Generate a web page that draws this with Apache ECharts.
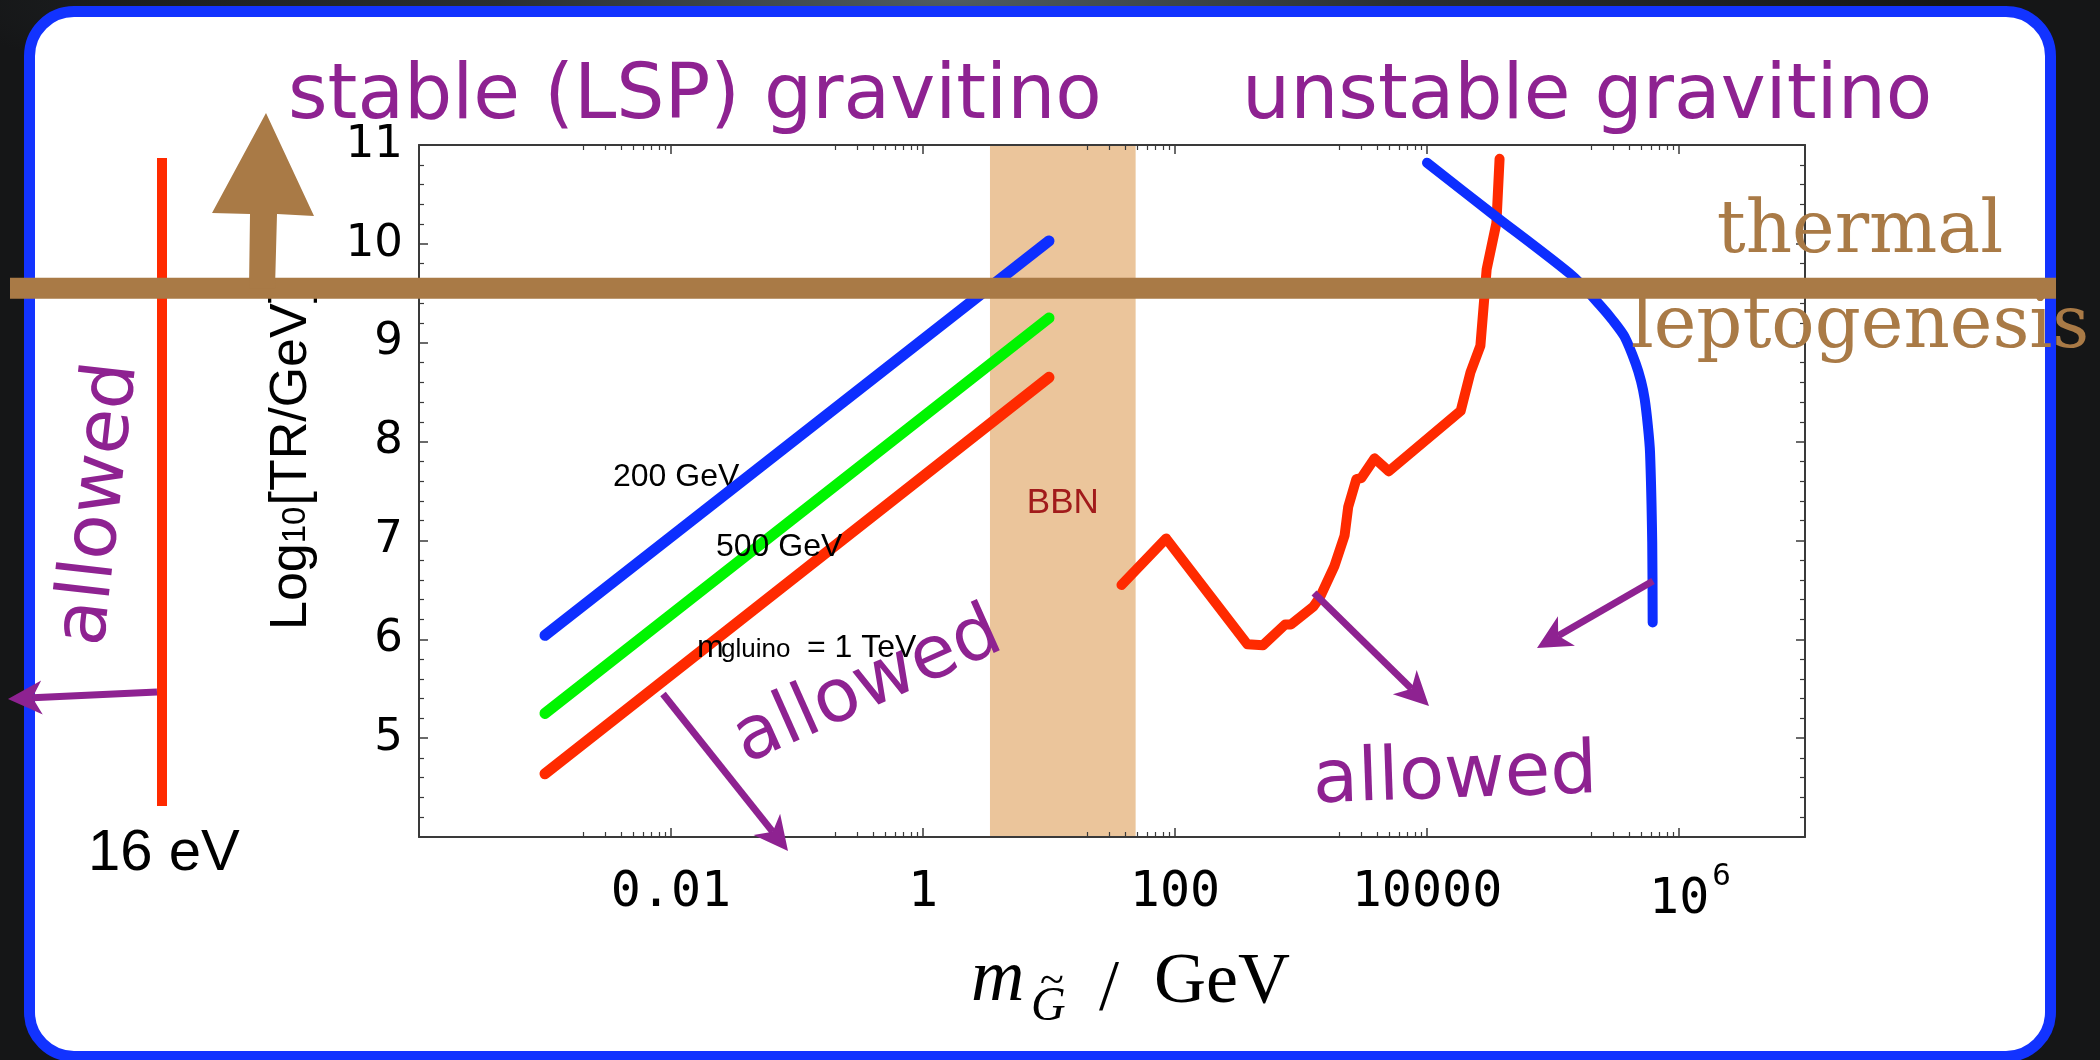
<!DOCTYPE html>
<html>
<head>
<meta charset="utf-8">
<script src="https://cdn.jsdelivr.net/npm/echarts@6/dist/echarts.min.js"></script>
<style>
  html, body { margin: 0; padding: 0; width: 2100px; height: 1060px; overflow: hidden; }
  body {
    background: radial-gradient(ellipse 1000px 140px at 950px 0px, #4f5c62 0%, #2a2f32 45%, #151617 100%), #151617;
  }
  #panel {
    position: absolute; left: 24px; top: 6px; width: 2032px; height: 1056px;
    box-sizing: border-box; border: 11px solid #1233ff; border-radius: 50px; background: #ffffff;
  }
  #chart { position: absolute; left: 0; top: 0; width: 2100px; height: 1060px; }
</style>
</head>
<body>
<div id="panel"></div>
<div id="chart"></div>
<script>
// ---- axis ticks / labels ----
const X_MAJOR_TICKS = [0.01, 1, 100, 1e4, 1e6];
const X_TICK_LABELS = ['0.01', '1', '100', '10000', '10^6'];
const X_MINOR_DECADES = [1e-3, 1e-1, 1e1, 1e3, 1e5];
const X_MINOR_STEPS = [2, 3, 4, 5, 6, 7, 8, 9];
const Y_TICK_LABELS = ['', '5', '6', '7', '8', '9', '10', '11'];

// ---- stable gravitino: upper bound on TR for three gluino masses ----
const GLUINO_LABELS = ['200 GeV', '500 GeV', '1 TeV'];
const STABLE_MASS = [1e-3, 10];
const TR_GLUINO_200 = [6.04, 10.03];
const TR_GLUINO_500 = [5.25, 9.25];
const TR_GLUINO_1000 = [4.64, 8.65];

// ---- BBN-excluded mass window ----
const BBN_BAND = [3.4, 48.7];

// ---- unstable gravitino: BBN bound (red) ----
const UNSTABLE_RED_MASS = [37.6, 85, 375, 499, 750, 834, 1253, 1406, 1841, 2218, 2370, 2750, 3006, 3838, 4977, 18500, 22130, 26530, 29730, 35550, 37670];
const UNSTABLE_RED_TR = [6.55, 7.02, 5.95, 5.94, 6.15, 6.15, 6.33, 6.42, 6.74, 7.05, 7.34, 7.62, 7.63, 7.83, 7.70, 8.31, 8.70, 8.97, 9.74, 10.21, 10.86];

// ---- unstable gravitino: second bound (blue) ----
const UNSTABLE_BLUE_MASS = [1.0e4, 3.33e4, 1.445e5, 2.36e5, 3.01e5, 3.7e5, 4.53e5, 5.0e5, 5.34e5, 5.66e5, 5.89e5, 6.13e5, 6.18e5];
const UNSTABLE_BLUE_TR = [10.82, 10.30, 9.67, 9.38, 9.22, 9.06, 8.79, 8.61, 8.43, 8.16, 7.89, 6.98, 6.17];

// ---- thermal leptogenesis requirement ----
const LEPTOGENESIS_TR = 9.55;

// ---- colours ----
const C_BLUE = '#0d2eff', C_GREEN = '#00f500', C_RED = '#ff2a00';
const C_PURPLE = '#8e2291', C_BROWN = '#a97a46', C_BAND = '#ebc59b';
const C_AXIS = '#3a3a3a';

const X_MINOR_TICKS = [];
X_MINOR_DECADES.forEach(d => X_MINOR_STEPS.forEach(k => X_MINOR_TICKS.push(d * k)));

const zip = (xs, ys) => xs.map((x, i) => [x, ys[i]]);

function xLabel(v) {
  const e = Math.log10(v);
  const i = X_MAJOR_TICKS.findIndex(t => Math.abs(Math.log10(t) - e) < 1e-6);
  if (i < 0) return '';
  const s = X_TICK_LABELS[i];
  const m = s.match(/^10\^(\d+)$/);
  return m ? '{c|10}{s|' + m[1] + '}' : '{b|' + s + '}';
}

const MONO = '"DejaVu Sans Mono"';
const baseX = {
  type: 'log', logBase: 10, min: 1e-4, max: 1e7, gridIndex: 0, z: 4,
  splitLine: { show: false }, minorSplitLine: { show: false }
};

const chart = echarts.init(document.getElementById('chart'), null, { width: 2100, height: 1060 });

const option = {
  backgroundColor: 'transparent',
  animation: false,
  grid: { left: 419, top: 145, width: 1386, height: 692, containLabel: false },
  xAxis: [
    Object.assign({}, baseX, {
      position: 'bottom',
      axisLine: { show: true, onZero: false, lineStyle: { color: C_AXIS, width: 2 } },
      axisTick: { show: true, inside: true, length: 9, customValues: X_MAJOR_TICKS, lineStyle: { color: C_AXIS, width: 1.5 } },
      axisLabel: {
        show: true, customValues: X_MAJOR_TICKS, margin: 24, formatter: xLabel,
        fontFamily: MONO, fontSize: 50, lineHeight: 64, color: '#000',
        rich: {
          b: { fontFamily: MONO, fontSize: 50, lineHeight: 64, color: '#000' },
          c: { fontFamily: MONO, fontSize: 50, lineHeight: 64, color: '#000', verticalAlign: 'bottom', padding: [0, 0, 0, 22] },
          s: { fontFamily: MONO, fontSize: 31, lineHeight: 31, color: '#000', verticalAlign: 'top', padding: [0, 0, 0, 3] }
        }
      }
    }),
    Object.assign({}, baseX, {
      position: 'bottom',
      axisLine: { show: false, onZero: false },
      axisTick: { show: true, inside: true, length: 5, customValues: X_MINOR_TICKS, lineStyle: { color: C_AXIS, width: 1.2 } },
      axisLabel: { show: false }
    }),
    Object.assign({}, baseX, {
      position: 'top',
      axisLine: { show: true, onZero: false, lineStyle: { color: C_AXIS, width: 2 } },
      axisTick: { show: true, inside: true, length: 9, customValues: X_MAJOR_TICKS, lineStyle: { color: C_AXIS, width: 1.5 } },
      axisLabel: { show: false }
    }),
    Object.assign({}, baseX, {
      position: 'top',
      axisLine: { show: false, onZero: false },
      axisTick: { show: true, inside: true, length: 5, customValues: X_MINOR_TICKS, lineStyle: { color: C_AXIS, width: 1.2 } },
      axisLabel: { show: false }
    })
  ],
  yAxis: [
    {
      type: 'value', min: 4, max: 11, interval: 1, position: 'left', z: 4,
      axisLine: { show: true, onZero: false, lineStyle: { color: C_AXIS, width: 2 } },
      axisTick: { show: true, inside: true, length: 9, lineStyle: { color: C_AXIS, width: 1.5 } },
      minorTick: { show: true, splitNumber: 5, length: 5, lineStyle: { color: C_AXIS, width: 1.2 } },
      axisLabel: {
        show: true, margin: 16, fontFamily: '"DejaVu Sans"', fontSize: 45, color: '#000',
        formatter: v => Y_TICK_LABELS[Math.round(v) - 4] || ''
      },
      splitLine: { show: false }, minorSplitLine: { show: false }
    },
    {
      type: 'value', min: 4, max: 11, interval: 1, position: 'right', z: 4,
      axisLine: { show: true, onZero: false, lineStyle: { color: C_AXIS, width: 2 } },
      axisTick: { show: true, inside: true, length: 9, lineStyle: { color: C_AXIS, width: 1.5 } },
      minorTick: { show: true, splitNumber: 5, length: 5, lineStyle: { color: C_AXIS, width: 1.2 } },
      axisLabel: { show: false },
      splitLine: { show: false }, minorSplitLine: { show: false }
    }
  ],
  series: [
    {
      type: 'line', name: 'BBN', data: [], z: 1, silent: true,
      markArea: {
        silent: true,
        itemStyle: { color: C_BAND, opacity: 1 },
        label: {
          show: true, position: 'inside', formatter: 'BBN', offset: [0, 12],
          color: '#a11b1b', fontFamily: '"Liberation Sans"', fontSize: 35
        },
        data: [[{ xAxis: BBN_BAND[0] }, { xAxis: BBN_BAND[1] }]]
      }
    },
    {
      type: 'line', name: GLUINO_LABELS[0], data: zip(STABLE_MASS, TR_GLUINO_200), z: 5,
      symbol: 'none', lineStyle: { color: C_BLUE, width: 11, cap: 'round' }
    },
    {
      type: 'line', name: GLUINO_LABELS[1], data: zip(STABLE_MASS, TR_GLUINO_500), z: 5,
      symbol: 'none', lineStyle: { color: C_GREEN, width: 11, cap: 'round' }
    },
    {
      type: 'line', name: GLUINO_LABELS[2], data: zip(STABLE_MASS, TR_GLUINO_1000), z: 5,
      symbol: 'none', lineStyle: { color: C_RED, width: 11, cap: 'round' }
    },
    {
      type: 'line', name: 'unstable, BBN', data: zip(UNSTABLE_RED_MASS, UNSTABLE_RED_TR), z: 5,
      symbol: 'none', lineStyle: { color: C_RED, width: 10, cap: 'round', join: 'round' }
    },
    {
      type: 'line', name: 'unstable, upper', data: zip(UNSTABLE_BLUE_MASS, UNSTABLE_BLUE_TR), z: 5,
      symbol: 'none', smooth: 0.25, lineStyle: { color: C_BLUE, width: 10, cap: 'round', join: 'round' }
    }
  ]
};

chart.setOption(option);

// ---- annotations drawn on top of the plot ----
const measureCtx = document.createElement('canvas').getContext('2d');
function textWidth(s, font) { measureCtx.font = font; return measureCtx.measureText(s).width; }

// text placed by its baseline (y is the baseline)
function label(text, x, baseline, size, family, fill, extra) {
  const font = (extra && extra.fontStyle ? extra.fontStyle + ' ' : '') + size + 'px ' + family;
  return Object.assign({
    type: 'text', x: x, y: baseline - 0.3 * size, z: 100,
    style: { text: text, font: font, fill: fill, align: (extra && extra.align) || 'left', verticalAlign: 'middle' }
  }, extra && extra.el ? extra.el : {});
}

function arrow(x1, y1, x2, y2, color, lw, hl, hw) {
  const dx = x2 - x1, dy = y2 - y1, L = Math.hypot(dx, dy);
  const ux = dx / L, uy = dy / L, nx = -uy, ny = ux;
  const bx = x2 - ux * hl, by = y2 - uy * hl;
  const kx = x2 - ux * hl * 0.72, ky = y2 - uy * hl * 0.72;
  return [
    { type: 'line', z: 100, shape: { x1: x1, y1: y1, x2: kx, y2: ky }, style: { stroke: color, lineWidth: lw } },
    { type: 'polygon', z: 100, shape: { points: [[x2, y2], [bx + nx * hw, by + ny * hw], [kx, ky], [bx - nx * hw, by - ny * hw]] }, style: { fill: color } }
  ];
}

const SANS = '"DejaVu Sans"', SERIF = '"DejaVu Serif"', HELV = '"Liberation Sans"', TIMES = '"Liberation Serif"';
const barY = chart.convertToPixel({ yAxisIndex: 0 }, LEPTOGENESIS_TR);

const els = [];

// headings
els.push(label('stable (LSP) gravitino', 288, 121, 76, SANS, C_PURPLE));
els.push(label('unstable gravitino', 1242, 121, 76, SANS, C_PURPLE));
els.push(label('thermal', 1860, 255, 72, SERIF, C_BROWN, { align: 'center' }));
els.push(label('leptogenesis', 1860, 350, 72, SERIF, C_BROWN, { align: 'center' }));

// "allowed" markers
els.push({ type: 'text', x: 100, y: 504, rotation: 1.457, z: 100,
  style: { text: 'allowed', font: '74px ' + SANS, fill: C_PURPLE, align: 'center', verticalAlign: 'middle' } });
els.push({ type: 'text', x: 868, y: 688, rotation: 0.419, z: 100,
  style: { text: 'allowed', font: '74px ' + SANS, fill: C_PURPLE, align: 'center', verticalAlign: 'middle' } });
els.push({ type: 'text', x: 1455, y: 778, rotation: 0.035, z: 100,
  style: { text: 'allowed', font: '74px ' + SANS, fill: C_PURPLE, align: 'center', verticalAlign: 'middle' } });

// arrows pointing into the allowed regions
els.push(...arrow(157, 692, 8, 699, C_PURPLE, 7, 34, 17));
els.push(...arrow(663, 694, 788, 851, C_PURPLE, 7, 34, 17));
els.push(...arrow(1314, 593, 1429, 706, C_PURPLE, 7, 34, 17));
els.push(...arrow(1653, 581, 1537, 648, C_PURPLE, 7, 34, 17));

// 16 eV lower limit
els.push({ type: 'rect', z: 90, shape: { x: 157, y: 158, width: 10, height: 648 }, style: { fill: C_RED } });
els.push(label('16 eV', 88, 871, 58, HELV, '#000'));

// leptogenesis bar and upward arrow
els.push({ type: 'rect', z: 110, shape: { x: 10, y: barY - 10.5, width: 2046, height: 21 }, style: { fill: C_BROWN } });
els.push({ type: 'polygon', z: 110, shape: { points: [[249, barY], [275, barY], [277, 214], [314, 216], [266, 113], [212, 213], [250, 214]] }, style: { fill: C_BROWN } });

// curve labels
els.push(Object.assign(label('200 GeV', 613, 487, 32, HELV, '#000'), { z: 3 }));
els.push(label('500 GeV', 716, 557, 32, HELV, '#000'));
els.push(label('m', 697, 658, 32, HELV, '#000'));
els.push(label('gluino', 721, 658, 26, HELV, '#000'));
els.push(label('= 1 TeV', 807, 658, 32, HELV, '#000'));

// y-axis title, rotated, read bottom to top
(function () {
  const f1 = '52px ' + HELV, f2 = '33px ' + HELV;
  const w1 = textWidth('Log', f1), w2 = textWidth('10', f2);
  const base = 307, y0 = 630;
  const mk = (t, font, x, y) => ({ type: 'text', x: x, y: y, rotation: Math.PI / 2, z: 50,
    style: { text: t, font: font, fill: '#000', align: 'left', verticalAlign: 'middle' } });
  els.push(mk('Log', f1, base - 0.3 * 52, y0));
  els.push(mk('10', f2, base - 1 - 0.3 * 33, y0 - w1));
  els.push(mk('[TR/GeV]', f1, base - 0.3 * 52, y0 - w1 - w2 - 1));
})();

// x-axis title  m_G~ / GeV
els.push(label('m', 971, 1003, 74, TIMES, '#000', { fontStyle: 'italic' }));
els.push(label('G', 1031, 1022, 48, TIMES, '#000', { fontStyle: 'italic' }));
els.push({ type: 'text', x: 1052, y: 982, z: 100,
  style: { text: '~', font: '44px ' + TIMES, fill: '#000', align: 'center', verticalAlign: 'middle' } });
els.push(label('/', 1099, 1012, 72, TIMES, '#000'));
els.push(label('GeV', 1154, 1005, 72, TIMES, '#000'));

chart.setOption({ graphic: { elements: els } });
</script>
</body>
</html>
